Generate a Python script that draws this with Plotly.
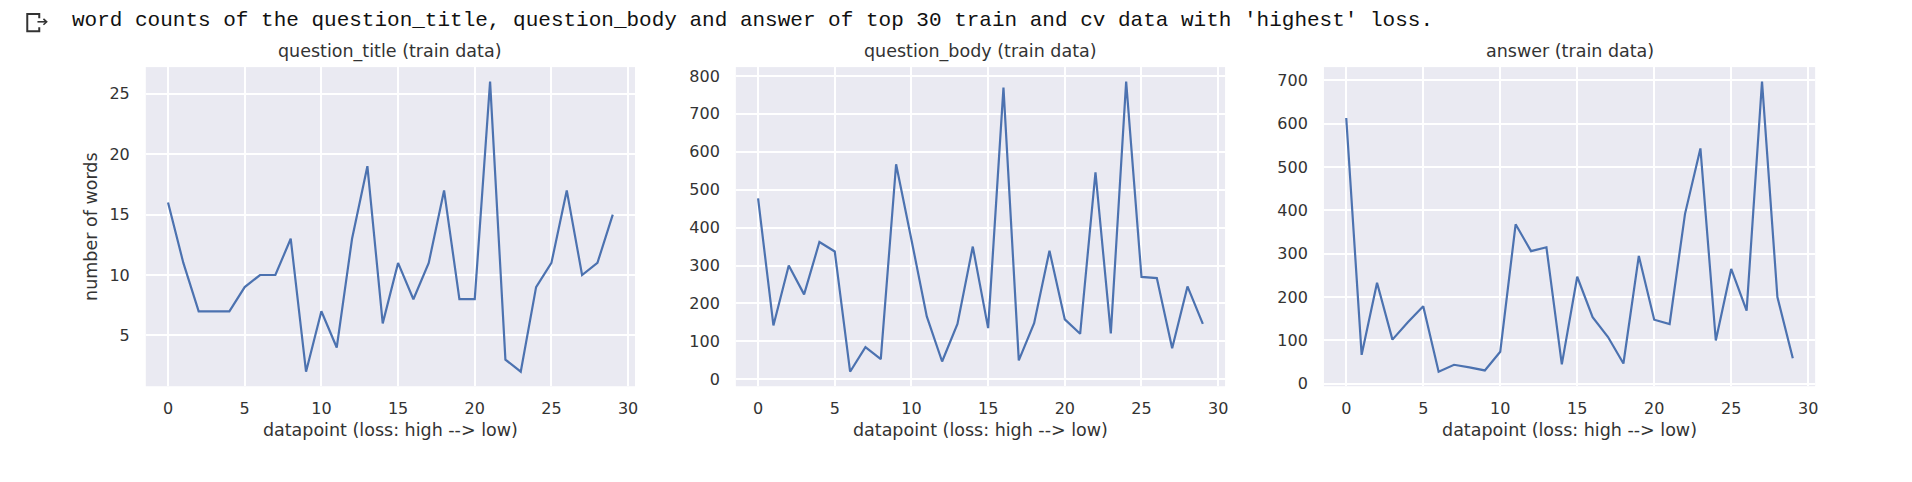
import plotly.graph_objects as go

# reference canvas; the browser page has a default 8px body margin on every side,
# so the figure is made smaller to fit the window exactly and positions are shifted.
REF_W, REF_H = 1912, 482
PAGE_MARGIN = 8
W, H = REF_W - 2 * PAGE_MARGIN, REF_H - 2 * PAGE_MARGIN

datapoints = list(range(30))
question_title_words = [16, 11, 7, 7, 7, 9, 10, 10, 13, 2, 7, 4, 13, 19, 6, 11, 8, 11, 17, 8, 8, 26, 3, 2, 9, 11, 17, 10, 11, 15]
question_body_words = [477, 142, 300, 224, 362, 337, 20, 85, 53, 567, 368, 166, 47, 146, 350, 135, 769, 50, 148, 339, 158, 120, 546, 121, 785, 270, 267, 82, 245, 146]
answer_words = [613, 67, 233, 102, 142, 179, 28, 44, 38, 31, 74, 368, 306, 315, 45, 247, 154, 108, 47, 295, 148, 138, 392, 543, 100, 265, 169, 697, 200, 59]

titles = ["question_title (train data)", "question_body (train data)", "answer (train data)"]
x_title = "datapoint (loss: high --> low)"
y_title = "number of words"
suptitle = "word counts of the question_title, question_body and answer of top 30 train and cv data with 'highest' loss."

series = [question_title_words, question_body_words, answer_words]
y_dticks = [5, 100, 100]
y_first = [5, 0, 0]

# pixel layout of the three axes (reference-window coordinates)
x_px = [(146, 636), (737, 1227), (1326, 1818)]
y_px = (68, 392)

BG = "#EAEAF2"
LINE = "#4C72B0"
TXT = "#333333"
FONT = "DejaVu Sans"


def px(xv):
    return (xv - PAGE_MARGIN) / W


def py(yv):
    return 1 - (yv - PAGE_MARGIN) / H


fig = go.Figure()
layout = dict(
    width=W, height=H,
    margin=dict(l=0, r=0, t=0, b=0),
    paper_bgcolor="white",
    plot_bgcolor=BG,
    showlegend=False,
    font=dict(family=FONT, color=TXT, size=16),
)

annotations = []
for i, (vals, ttl) in enumerate(zip(series, titles)):
    n = i + 1
    xa = "x" if n == 1 else f"x{n}"
    ya = "y" if n == 1 else f"y{n}"
    fig.add_trace(go.Scatter(x=datapoints, y=vals, mode="lines",
                             line=dict(color=LINE, width=2.2),
                             xaxis=xa, yaxis=ya, hoverinfo="x+y"))
    xmin, xmax = min(datapoints), max(datapoints)
    xm = 0.05 * (xmax - xmin)
    ymin, ymax = min(vals), max(vals)
    ym = 0.05 * (ymax - ymin)
    xdom = [px(x_px[i][0]), px(x_px[i][1])]
    ydom = [py(y_px[1]), py(y_px[0])]
    xkey = "xaxis" if n == 1 else f"xaxis{n}"
    ykey = "yaxis" if n == 1 else f"yaxis{n}"
    layout[xkey] = dict(
        domain=xdom, anchor=ya, range=[xmin - xm, xmax + xm],
        tick0=0, dtick=5, showgrid=True, gridcolor="white", gridwidth=1.5,
        zeroline=False, showline=False, ticks="", ticklabelstandoff=11,
        tickfont=dict(size=16, color=TXT),
        title=dict(text=x_title, font=dict(size=17.5, color=TXT), standoff=6),
    )
    ydict = dict(
        domain=ydom, anchor=xa, range=[ymin - ym, ymax + ym],
        tick0=y_first[i], dtick=y_dticks[i], showgrid=True, gridcolor="white", gridwidth=1.5,
        zeroline=False, showline=False, ticks="", ticklabelstandoff=15,
        tickfont=dict(size=16, color=TXT),
    )
    if n == 1:
        ydict["title"] = dict(text=y_title, font=dict(size=17.5, color=TXT), standoff=7)
    layout[ykey] = ydict
    annotations.append(dict(
        text=ttl, xref="paper", yref="paper",
        x=(xdom[0] + xdom[1]) / 2, y=py(52),
        xanchor="center", yanchor="middle", showarrow=False,
        font=dict(size=17.5, color=TXT, family=FONT)))

annotations.append(dict(
    text=suptitle, xref="paper", yref="paper",
    x=px(70), y=py(21), xanchor="left", yanchor="middle", showarrow=False,
    font=dict(family="Liberation Mono", size=21, color="#111111")))

layout["annotations"] = annotations

# Colab output marker icon
icon_color = "#333333"
shapes = [
    dict(type="path", xref="paper", yref="paper",
         path=f"M {px(39.3)} {py(18.5)} L {px(39.3)} {py(14)} L {px(27.3)} {py(14)} L {px(27.3)} {py(31.7)} L {px(39.3)} {py(31.7)} L {px(39.3)} {py(27.5)}",
         line=dict(color=icon_color, width=2)),
    dict(type="line", xref="paper", yref="paper",
         x0=px(37.5), y0=py(22), x1=px(46.5), y1=py(22),
         line=dict(color=icon_color, width=1.6)),
    dict(type="path", xref="paper", yref="paper",
         path=f"M {px(43.5)} {py(19)} L {px(46.7)} {py(22)} L {px(43.5)} {py(25)}",
         line=dict(color=icon_color, width=1.6)),
]
layout["shapes"] = shapes

fig.update_layout(**layout)
fig.write_html("out.html")
